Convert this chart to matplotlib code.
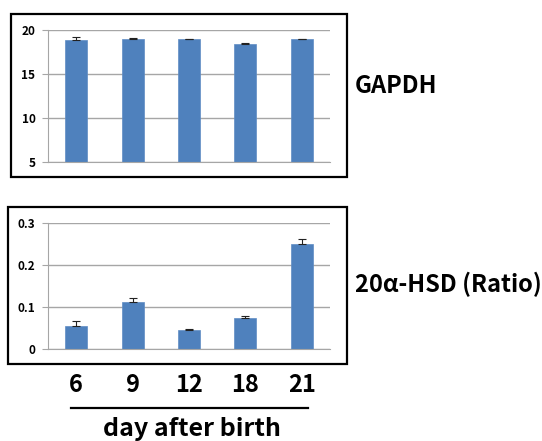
import matplotlib.pyplot as plt
from matplotlib.patches import Rectangle
from matplotlib.lines import Line2D
import numpy as np

plt.rcParams["font.family"] = ["Noto Sans CJK KR", "DejaVu Sans"]

days = ["6", "9", "12", "18", "21"]
gapdh = [18.9, 18.94, 18.97, 18.44, 18.97]
gapdh_err = [0.3, 0.1, 0.05, 0.03, 0.05]
hsd = [0.055, 0.112, 0.0445, 0.0745, 0.2505]
hsd_err = [0.011, 0.01, 0.002, 0.003, 0.011]

BLUE = "#4F81BD"
GRID = "#A6A6A6"

W, H = 542, 441
fig = plt.figure(figsize=(W / 100, H / 100), dpi=100)


def px_axes(x0, y0, x1, y1):
    return fig.add_axes([x0 / W, 1 - y1 / H, (x1 - x0) / W, (y1 - y0) / H])


def style(ax, ylim, yticks, ylabels):
    x = np.arange(len(days))
    ax.set_xlim(-0.5, len(days) - 0.5)
    ax.set_ylim(*ylim)
    ax.set_yticks(yticks)
    ax.set_yticklabels(ylabels, fontsize=8.5, fontweight="bold")
    ax.yaxis.grid(True, color=GRID, lw=1)
    ax.set_axisbelow(True)
    for s in ("top", "right"):
        ax.spines[s].set_visible(False)
    ax.spines["left"].set_color(GRID)
    ax.spines["bottom"].set_color(GRID)
    ax.tick_params(axis="y", color=GRID, length=4, pad=5)
    ax.tick_params(axis="x", length=0)
    return x


# top panel: GAPDH
ax1 = px_axes(48, 30, 330, 162)
x = style(ax1, (5, 20), [5, 10, 15, 20], ["5", "10", "15", "20"])
ax1.bar(x, gapdh, width=0.39, color=BLUE, edgecolor="#5F8CC4", lw=0.5)
ax1.errorbar(x, gapdh, yerr=[np.zeros(len(x)), gapdh_err], fmt="none",
             ecolor="#222222", elinewidth=0.8, capsize=3, capthick=0.8)
ax1.set_xticks([])

# bottom panel: 20a-HSD
ax2 = px_axes(48, 223, 330, 349)
x = style(ax2, (0, 0.3), [0, 0.1, 0.2, 0.3], ["0", "0.1", "0.2", "0.3"])
ax2.bar(x, hsd, width=0.39, color=BLUE, edgecolor="#5F8CC4", lw=0.5)
ax2.errorbar(x, hsd, yerr=[np.zeros(len(x)), hsd_err], fmt="none",
             ecolor="#222222", elinewidth=0.8, capsize=3, capthick=0.8)
ax2.set_xticks(x)
ax2.set_xticklabels(days, fontsize=17, fontweight="bold")
ax2.tick_params(axis="x", pad=17)

# frames around the panels
for (x0, y0, x1, y1) in [(11, 14, 347, 177), (8, 207, 347, 364)]:
    fig.add_artist(Rectangle((x0 / W, 1 - y1 / H), (x1 - x0) / W, (y1 - y0) / H,
                             transform=fig.transFigure, fill=False,
                             edgecolor="black", lw=1.6))

fig.text(355 / W, 1 - 86 / H, "GAPDH", fontsize=17, fontweight="bold",
         va="center", ha="left")
fig.text(355 / W, 1 - 284 / H, "20α-HSD (Ratio)", fontsize=17, fontweight="bold",
         va="center", ha="left")

fig.add_artist(Line2D([71 / W, 308 / W], [1 - 408 / H, 1 - 408 / H],
                      transform=fig.transFigure, color="black", lw=1.6))
fig.text(192 / W, 1 - 429 / H, "day after birth", fontsize=18, fontweight="bold",
         ha="center", va="center")

fig.savefig("out.png", dpi=100)
